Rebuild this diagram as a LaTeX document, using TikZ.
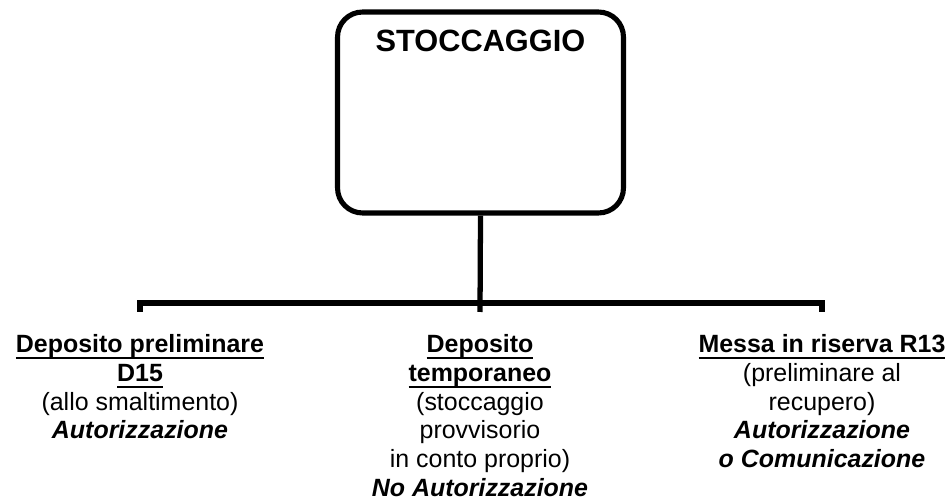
\documentclass[tikz,border=0pt]{standalone}
\usepackage{fontspec}
\setmainfont{Liberation Sans}
\usetikzlibrary{positioning}
\newcommand{\sottolinea}[1]{\setbox0\hbox{#1}\rlap{\rule[-4pt]{\wd0}{1.2pt}}\box0}

\begin{document}
\begin{tikzpicture}[x=0.02cm, y=-0.02cm,
    filo/.style={line width=3pt},
    scatola/.style={draw, line width=2.9pt, rounded corners=0.5cm, minimum width=5.72cm, minimum height=4.02cm, inner sep=0pt},
    voce/.style={anchor=north, align=center, inner sep=0pt, font=\fontsize{14.2}{16.4}\selectfont}]
    \useasboundingbox (0,0) rectangle (952,502);

    \node[scatola] (stock) at (480.5,112.5) {};
    \node[below=0.4cm of stock.north, inner sep=0pt, font=\fontsize{17.5}{20}\selectfont\bfseries] (titolo) {STOCCAGGIO};

    \coordinate (snodo) at (480,303); \coordinate (sx) at (140,303); \coordinate (dx) at (822,303);
    \draw[filo] (stock.south) -- ([yshift=-0.18cm]snodo);
    \draw[filo] ([yshift=-0.18cm]sx) -- (sx) -- (dx) -- ([yshift=-0.18cm]dx);

    \node[voce] (dep) at (140,334) {\sottolinea{\bfseries Deposito preliminare}\\ \sottolinea{\bfseries D15}\\ (allo smaltimento)\\ \textbf{\textit{Autorizzazione}}};
    \node[voce] (temp) at (480,334) {\sottolinea{\bfseries Deposito}\\ \sottolinea{\bfseries temporaneo}\\ (stoccaggio\\ provvisorio\\ in conto proprio)\\ \textbf{\textit{No Autorizzazione}}};
    \node[voce] (ris) at (822,334) {\sottolinea{\bfseries Messa in riserva R13}\\ (preliminare al\\ recupero)\\ \textbf{\textit{Autorizzazione}}\\ \textbf{\textit{o Comunicazione}}};
\end{tikzpicture}
\end{document}
